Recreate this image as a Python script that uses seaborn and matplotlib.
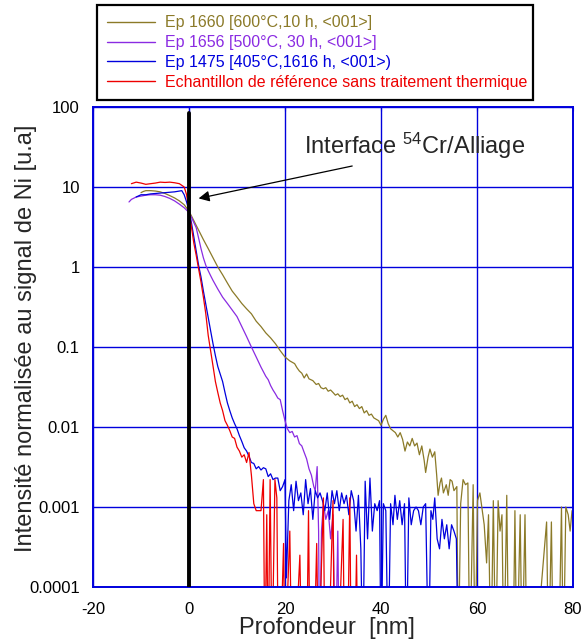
import numpy as np
import pandas as pd
import matplotlib
matplotlib.use("Agg")
import matplotlib.pyplot as plt
from matplotlib.lines import Line2D
from matplotlib.ticker import NullLocator
import seaborn as sns

F = 1e-5  # signal at/below detection floor (clipped at axis bottom)

labels = ["Ep 1660 [600°C,10 h, <001>]",
          "Ep 1656 [500°C, 30 h, <001>]",
          "Ep 1475 [405°C,1616 h, <001>)",
          "Echantillon de référence sans traitement thermique"]
colors = ["#8b7a28", "#8a2be2", "#0000dd", "#ee0000"]

# ---- Ep 1660 ----
gold_depth = [-10, -9.5, -9, -8, -7, -6, -5, -4, -3, -2, -1, 0,
              1, 2, 3, 4, 5, 6, 7, 8, 9, 10, 11, 12, 13, 14, 15, 16, 17, 18, 19, 20, 21,
              22, 22.5, 23, 23.5, 24, 24.5, 25, 25.8, 26.5,
              27, 27.5, 28, 28.5, 29, 29.5, 30, 30.5, 31, 31.5, 32, 32.5, 33, 33.5, 34, 34.5,
              35, 35.5, 36, 36.5, 37, 37.5, 38, 38.5, 39, 39.5, 40, 40.5, 41, 41.5, 42, 42.5,
              43, 43.5, 44, 44.5, 45, 45.5, 46, 46.5, 47, 47.5, 48, 48.5, 49,
              49.3, 49.8, 50.2, 50.7, 51.2, 51.6, 51.9, 52.3, 52.6, 53.0, 53.6, 54.0, 54.4,
              54.8, 55.2, 55.8, 56.1, 56.6, 57.1, 57.6, 58.1, 58.5, 59.2, 59.6, 60.1, 60.6,
              61.0, 61.5, 62.0, 62.4, 62.9, 63.4, 63.9, 64.4, 64.8, 65.2, 65.6, 66.2, 66.6,
              67.5, 67.9, 68.3, 69.0, 69.4, 70.0, 70.4, 72.0, 74.5, 74.9, 75.5, 75.9, 77.0,
              77.6, 78.0, 78.5, 79.0, 79.4, 79.8, 80.0]
gold_vals = [8.5, 8.8, 9.0, 9.0, 8.9, 8.7, 8.3, 7.8, 7.3, 6.7, 6.0, 5.0,
             3.8, 2.9, 2.2, 1.7, 1.3, 1.0, 0.8, 0.63, 0.5, 0.42, 0.35, 0.3, 0.26, 0.21, 0.18,
             0.15, 0.13, 0.11, 0.09, 0.075, 0.067,
             0.062, 0.055, 0.05, 0.047, 0.041, 0.046, 0.04, 0.038, 0.034,
             0.035, 0.031, 0.03, 0.031, 0.028, 0.029, 0.027, 0.025, 0.026, 0.024, 0.025, 0.022,
             0.023, 0.02, 0.021, 0.018,
             0.019, 0.017, 0.018, 0.015, 0.016, 0.014, 0.0145, 0.013, 0.0125, 0.012, 0.0105,
             0.0125, 0.014, 0.011, 0.0095, 0.009,
             0.0085, 0.0075, 0.0085, 0.007, 0.005, 0.0065, 0.0058, 0.0072, 0.0058, 0.0063,
             0.0045, 0.0058, 0.0038,
             0.0027, 0.0042, 0.0053, 0.0042, 0.0049, 0.0025, 0.0014, 0.002, 0.0023, 0.0015,
             0.0019, 0.0014, 0.0022,
             0.0021, 0.0016, 0.0018, F, 0.0011, 0.0022, 0.0019, 0.002, F, 0.0019, F, 0.0012,
             0.0015,
             0.001, 0.0006, 0.0002, 0.0008, F, 0.0012, F, 0.0012, 0.0005, 0.0008, F, 0.0014, F,
             F, 0.0009, F, 0.0008, F, 0.0008, F, F, 0.00065, F, 0.00065, F, F,
             0.001, F, 0.001, 0.0008, 0.0005, 0.0009, 0.0007]

# ---- Ep 1656 ----
purple_depth = [-12.5, -12, -11, -10, -9, -8, -7, -6, -5, -4, -3, -2, -1, 0,
                0.5, 1, 1.5, 2, 2.5, 3, 3.5, 4, 4.5, 5,
                6, 7, 8, 9, 10, 11, 12, 13, 14, 15, 16,
                16.5, 17, 17.5, 18, 18.5, 19, 19.5, 20, 20.5, 21, 21.5, 22, 22.5, 23, 23.5,
                24, 24.5, 25, 25.5, 26,
                26.3, 26.7, 27.0, 27.2, 27.6, 28, 28.5, 29, 29.5, 30, 30.5, 31, 31.3]
purple_vals = [6.5, 7.0, 7.5, 7.7, 7.9, 8.0, 8.0, 7.9, 7.6, 7.2, 6.7, 6.1, 5.5, 4.8,
               4.2, 3.6, 3.1, 2.3, 1.7, 1.3, 1.05, 0.9, 0.78, 0.68,
               0.53, 0.42, 0.35, 0.29, 0.24, 0.18, 0.135, 0.1, 0.075, 0.056, 0.043,
               0.039, 0.033, 0.029, 0.026, 0.023, 0.022, 0.016, 0.012, 0.0095, 0.0085, 0.0088,
               0.0075, 0.0078, 0.0062, 0.0058,
               0.0048, 0.004, 0.003, 0.0025, 0.0018,
               0.0016, 0.0032, 0.0005, F, 0.0005, 0.0011, 0.0007, 0.0009, 0.0004, 0.0008, F,
               0.0005, F]

# ---- Ep 1475 ----
blue_depth = [-11, -10, -9, -8, -7, -6, -5, -4, -3, -2, -1.5, -1, -0.5, 0,
              0.5, 1, 1.5, 2, 2.5, 3, 3.5, 4, 4.5, 5, 5.5, 6, 6.5, 7, 7.5, 8, 8.5, 9, 9.5,
              10, 10.5, 11, 11.5, 12, 12.5, 13, 13.5, 14, 14.5, 15, 15.5, 16, 16.5, 17,
              17.5, 18, 18.5, 19,
              19.5, 20.0, 20.3, 20.8, 21.3, 21.8, 22.3, 22.8, 23.3, 23.8, 24.3, 24.8, 25.3,
              25.8, 26.3, 26.8, 27.3, 27.8, 28.3, 28.8, 29.3, 29.8, 30.3, 30.8, 31.3, 31.8,
              32.3, 32.8, 33.3, 33.8, 34.3, 34.8, 35.3, 35.8, 36.2, 36.7, 37.2, 37.7, 38.2,
              38.7, 39.2, 39.7, 40.0, 40.5, 41.0, 41.5, 42.0, 42.5, 42.9, 43.4, 43.9, 44.4,
              44.9, 45.3, 45.8, 46.3, 46.8, 47.3, 47.8, 48.3, 48.8, 49.3, 49.9, 50.4, 50.8,
              51.2, 51.7, 52.2, 52.7, 53.2, 53.7, 54.2, 54.7, 55.2, 55.7, 56.1]
blue_vals = [7.5, 8.0, 8.0, 8.2, 8.3, 8.4, 8.5, 8.6, 8.7, 8.9, 9.0, 8.0, 6.5, 5.0,
             3.6, 2.4, 1.6, 1.05, 0.75, 0.5, 0.34, 0.23, 0.16, 0.11, 0.078, 0.057, 0.046,
             0.037, 0.027, 0.02, 0.016, 0.013, 0.011,
             0.0095, 0.0078, 0.0066, 0.0055, 0.005, 0.0043, 0.0036, 0.0035, 0.003, 0.0032,
             0.0029, 0.0031, 0.003, 0.0024, 0.0026,
             0.0022, 0.0023, 0.0023, 0.0016,
             0.0018, 0.0022, 0.00013, 0.0012, 0.0019, 0.0009, 0.0021, 0.0012, 0.0015, 0.0008,
             0.0022, 0.0011, 0.0017,
             0.0007, 0.0016, 0.0013, 0.0015, 0.0012, 0.0009, 0.0015, 0.0007, 0.0016, 0.0011,
             0.0016, 0.0009, 0.0015,
             0.0011, 0.0014, 0.0008, 0.0016, 0.0012, 0.0005, 0.0014, 0.0003, F, 0.0021, 0.0004,
             0.0023, 0.0005,
             0.0011, 0.0009, 0.0012, F, 0.0011, 0.0009, F, 0.0011, 0.0006, 0.0014, 0.0007,
             0.0012, 0.0006,
             0.0011, F, 0.0013, 0.0006, 0.0009, 0.001, 0.0009, 0.0006, 0.001, 0.0011, F,
             0.0009, 0.0007,
             0.0013, 0.0004, 0.0003, 0.0007, 0.0004, 0.0006, 0.0003, 0.0006, 0.0005, 0.0004, F]

# ---- Reference ----
red_depth = [-12, -11, -10, -9, -8, -7, -6, -5, -4, -3, -2, -1, -0.5, 0,
             0.5, 1, 1.5, 2, 2.5, 3, 3.5, 4, 4.5, 5, 5.5, 6, 6.5, 7, 7.5, 8, 8.5, 9, 9.5,
             10, 10.5, 11, 11.5, 12, 12.5, 13, 13.5, 14, 14.5,
             15.0, 15.5, 15.8, 16.2, 16.5, 16.9, 17.3, 17.9, 18.3, 18.6, 19.0, 19.7, 20.0,
             21.0, 21.4, 22.0, 23.1, 23.5, 24.5, 24.9, 25.2, 26.0, 26.6, 27.0, 28.0, 28.3,
             29.0, 30.0, 30.3, 31.0, 32.1, 32.4, 33.0, 33.5, 33.8, 34.5, 34.9, 35.2]
red_vals = [11.0, 11.5, 11.2, 10.8, 11.0, 11.2, 11.5, 11.4, 11.5, 11.3, 11.0, 10.0, 8.0, 5.0,
            3.2, 2.0, 1.4, 0.95, 0.65, 0.42, 0.26, 0.14, 0.09, 0.058, 0.037, 0.027, 0.02,
            0.016, 0.012, 0.0105, 0.009, 0.0075, 0.0072,
            0.0056, 0.005, 0.0042, 0.0045, 0.0036, 0.0048, 0.0025, 0.0011, 0.0009, 0.0009,
            0.0009, 0.0022, F, 0.0008, F, 0.0022, F, 0.0022, 0.0013, F, F, 0.00035, F,
            0.0005, F, F, 0.00025, F, F, 0.0009, F, F, 0.00035, F, 0.0013, F,
            F, 0.0012, F, F, 0.0007, F, F, 0.0013, F, F, 0.00025, F]

interface_depth = 0.0
annot_text = "Interface $^{54}$Cr/Alliage"
annot_head = (2.0, 7.2)
annot_tail = (34.0, 18.3)
annot_text_pos = (24.0, 32.5)

x_ticks = [-20, 0, 20, 40, 60, 80]
y_ticks = [1e-4, 1e-3, 1e-2, 1e-1, 1, 10, 100]
y_ticklabels = ["0.0001", "0.001", "0.01", "0.1", "1", "10", "100"]

series = [(labels[0], gold_depth, gold_vals), (labels[1], purple_depth, purple_vals),
          (labels[2], blue_depth, blue_vals), (labels[3], red_depth, red_vals)]
frames = []
for name, d, v in series:
    if len(d) != len(v):
        raise ValueError(f"{name}: {len(d)} depths vs {len(v)} values")
    frames.append(pd.DataFrame({"depth": d, "intensity": v, "series": name}))
df = pd.concat(frames, ignore_index=True)

sns.set_style("white")
plt.rcParams["font.family"] = ["Liberation Sans", "DejaVu Sans"]
plt.rcParams["mathtext.default"] = "regular"
plt.rcParams["axes.unicode_minus"] = False

W, H = 582, 643
fig = plt.figure(figsize=(W / 100, H / 100), dpi=100)
ax = fig.add_axes([93 / W, 1 - 587 / H, 480 / W, 480 / H])

sns.lineplot(data=df, x="depth", y="intensity", hue="series", hue_order=labels,
             palette=colors, sort=False, estimator=None, linewidth=0.9, ax=ax, legend=False)

ax.set_yscale("log")
ax.set_xlim(-20, 80)
ax.set_ylim(1e-4, 100)
ax.set_xticks(x_ticks)
ax.set_yticks(y_ticks)
ax.set_yticklabels(y_ticklabels)
ax.yaxis.set_minor_locator(NullLocator())
ax.grid(True, color="#0000dd", linewidth=1.0)
ax.set_axisbelow(True)
for s in ax.spines.values():
    s.set_color("#0000dd")
    s.set_linewidth(1.4)
ax.tick_params(direction="in", length=3, color="#0000dd", top=True, right=True,
               labelsize=12, labelcolor="black")
ax.tick_params(axis="x", pad=11)
ax.tick_params(axis="y", pad=9.5)

ax.axvline(interface_depth, ymin=0, ymax=0.9875, color="black", linewidth=2.8, zorder=5)

ax.annotate("", xy=annot_head, xytext=annot_tail,
            arrowprops=dict(arrowstyle="-|>", color="black", lw=0.9,
                            shrinkA=0, shrinkB=0, mutation_scale=16), zorder=6)
ax.text(annot_text_pos[0], annot_text_pos[1], annot_text, fontsize=17,
        ha="left", va="center", zorder=6)

ax.set_xlabel("Profondeur  [nm]", fontsize=17)
ax.xaxis.label.set_va("center")
ax.xaxis.set_label_coords(0.4875, -0.085)
ax.set_ylabel("Intensité normalisée au signal de Ni [u.a]", fontsize=17)
ax.yaxis.label.set_va("center")
ax.yaxis.set_label_coords(-0.14, 0.519)

handles = [Line2D([], [], color=c, linewidth=1.0) for c in colors]
leg = fig.legend(handles, labels, loc="upper left",
                 bbox_to_anchor=(97 / W, 1 - 95 / H, 436 / W, 90 / H), mode="expand",
                 frameon=True, fancybox=False, edgecolor="black", framealpha=1,
                 fontsize=11.5, handlelength=3.0, handletextpad=0.6, labelspacing=0.3,
                 borderpad=0.65, borderaxespad=0)
leg.get_frame().set_linewidth(1.6)
for t, c in zip(leg.get_texts(), colors):
    t.set_color(c)

fig.savefig("out.png", dpi=100)
